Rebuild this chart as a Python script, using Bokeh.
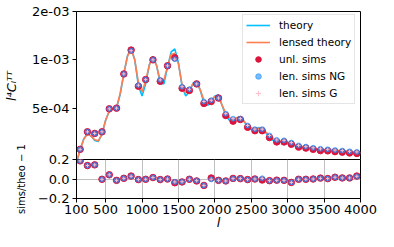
from bokeh.plotting import figure
from bokeh.models import Range1d, FixedTicker, Legend, LegendItem
from bokeh.layouts import column
from bokeh.embed import file_html
from bokeh.resources import INLINE

# ---------------- data ----------------
ell_theory = [100, 150, 200, 250, 300, 350, 400, 450, 500, 550, 600, 650, 700, 750,
              800, 850, 900, 950, 1000, 1050, 1100, 1150, 1200, 1250, 1300, 1350,
              1400, 1450, 1500, 1550, 1600, 1650, 1700, 1750, 1800, 1850, 1900,
              1950, 2000, 2050, 2100, 2150, 2200, 2250, 2300, 2350, 2400, 2450,
              2500, 2550, 2600, 2650, 2700, 2750, 2800, 2900, 3000, 3100, 3200,
              3300, 3400, 3500, 3600, 3700, 3800, 3900, 4000]

cl_theory = [2.30e-4, 2.75e-4, 3.22e-4, 3.48e-4, 3.35e-4, 3.15e-4, 3.10e-4, 3.45e-4,
             4.20e-4, 4.80e-4, 4.95e-4, 5.00e-4, 6.10e-4, 8.20e-4, 1.06e-3, 1.18e-3,
             1.00e-3, 6.90e-4, 5.95e-4, 7.10e-4, 9.30e-4, 1.05e-3, 9.20e-4, 7.10e-4,
             7.10e-4, 9.00e-4, 1.12e-3, 1.17e-3, 9.60e-4, 6.80e-4, 5.95e-4, 6.30e-4,
             7.15e-4, 7.35e-4, 6.45e-4, 5.40e-4, 5.20e-4, 5.50e-4, 5.95e-4, 6.05e-4,
             5.20e-4, 4.50e-4, 4.20e-4, 4.22e-4, 4.35e-4, 4.42e-4, 4.15e-4, 3.80e-4,
             3.68e-4, 3.70e-4, 3.78e-4, 3.75e-4, 3.50e-4, 3.30e-4, 3.15e-4, 3.08e-4,
             3.00e-4, 2.92e-4, 2.85e-4, 2.80e-4, 2.76e-4, 2.73e-4, 2.71e-4, 2.69e-4,
             2.67e-4, 2.64e-4, 2.62e-4]

cl_lensed = [2.30e-4, 2.75e-4, 3.20e-4, 3.45e-4, 3.35e-4, 3.18e-4, 3.13e-4, 3.45e-4,
             4.20e-4, 4.80e-4, 4.95e-4, 5.05e-4, 6.20e-4, 8.20e-4, 1.05e-3, 1.16e-3,
             1.00e-3, 7.20e-4, 6.30e-4, 7.40e-4, 9.30e-4, 1.03e-3, 9.20e-4, 7.40e-4,
             7.50e-4, 9.10e-4, 1.08e-3, 1.10e-3, 9.40e-4, 7.00e-4, 6.20e-4, 6.50e-4,
             7.10e-4, 7.25e-4, 6.50e-4, 5.60e-4, 5.40e-4, 5.60e-4, 5.90e-4, 5.85e-4,
             5.20e-4, 4.65e-4, 4.35e-4, 4.30e-4, 4.35e-4, 4.38e-4, 4.15e-4, 3.90e-4,
             3.75e-4, 3.70e-4, 3.75e-4, 3.73e-4, 3.55e-4, 3.38e-4, 3.22e-4, 3.12e-4,
             3.05e-4, 2.96e-4, 2.88e-4, 2.83e-4, 2.79e-4, 2.76e-4, 2.74e-4, 2.72e-4,
             2.70e-4, 2.67e-4, 2.65e-4]

ell_bins = [150, 250, 350, 450, 550, 650, 750, 850, 950, 1050, 1150, 1250, 1350,
            1450, 1550, 1650, 1750, 1850, 1950, 2050, 2150, 2250, 2350, 2450, 2550,
            2650, 2750, 2850, 2950, 3050, 3150, 3250, 3350, 3450, 3550, 3650, 3750,
            3850, 3950]

sims_unl = [2.77e-4, 3.56e-4, 3.48e-4, 3.56e-4, 4.95e-4, 5.00e-4, 8.17e-4, 1.15e-3,
            6.85e-4, 7.53e-4, 1.00e-3, 7.35e-4, 9.18e-4, 1.03e-3, 6.65e-4, 6.45e-4,
            7.08e-4, 5.35e-4, 5.50e-4, 5.78e-4, 4.50e-4, 4.15e-4, 4.25e-4, 3.80e-4,
            3.62e-4, 3.62e-4, 3.28e-4, 3.08e-4, 3.08e-4, 2.98e-4, 2.86e-4, 2.82e-4,
            2.77e-4, 2.72e-4, 2.71e-4, 2.68e-4, 2.66e-4, 2.63e-4, 2.61e-4]

sims_ng = [2.77e-4, 3.56e-4, 3.48e-4, 3.56e-4, 4.95e-4, 5.00e-4, 8.17e-4, 1.14e-3,
           6.95e-4, 7.53e-4, 1.00e-3, 7.50e-4, 9.18e-4, 1.01e-3, 6.80e-4, 6.55e-4,
           7.08e-4, 5.50e-4, 5.60e-4, 5.78e-4, 4.62e-4, 4.30e-4, 4.30e-4, 3.90e-4,
           3.70e-4, 3.70e-4, 3.38e-4, 3.17e-4, 3.15e-4, 3.05e-4, 2.93e-4, 2.88e-4,
           2.83e-4, 2.79e-4, 2.77e-4, 2.74e-4, 2.72e-4, 2.69e-4, 2.67e-4]

sims_g = [2.77e-4, 3.56e-4, 3.48e-4, 3.56e-4, 4.95e-4, 5.00e-4, 8.17e-4, 1.14e-3,
          6.95e-4, 7.53e-4, 1.00e-3, 7.50e-4, 9.18e-4, 1.01e-3, 6.80e-4, 6.55e-4,
          7.08e-4, 5.50e-4, 5.60e-4, 5.78e-4, 4.62e-4, 4.30e-4, 4.30e-4, 3.90e-4,
          3.70e-4, 3.70e-4, 3.38e-4, 3.17e-4, 3.15e-4, 3.05e-4, 2.93e-4, 2.88e-4,
          2.83e-4, 2.79e-4, 2.77e-4, 2.74e-4, 2.72e-4, 2.69e-4, 2.67e-4]

ratio_unl = [0.186, 0.138, 0.145, -0.003, 0.043, -0.014, 0.007, 0.030, -0.006,
             -0.003, 0.015, -0.006, 0.000, -0.038, -0.030, -0.003, -0.020, -0.066,
             0.010, -0.014, -0.020, 0.006, 0.004, -0.006, 0.000, -0.010, -0.017,
             -0.012, -0.014, -0.035, -0.003, -0.003, 0.000, 0.009, 0.004, 0.018,
             0.011, 0.011, 0.030]

ratio_ng = [0.186, 0.138, 0.145, -0.003, 0.043, -0.014, 0.007, 0.028, -0.006,
            -0.003, 0.015, -0.006, 0.000, -0.030, -0.028, -0.003, -0.017, -0.066,
            -0.003, -0.014, -0.020, 0.004, 0.004, -0.006, 0.000, 0.007, -0.017,
            -0.014, -0.014, -0.035, -0.003, -0.003, 0.000, 0.007, 0.004, 0.018,
            0.011, 0.011, 0.028]

x_ticks = [100, 500, 1000, 1500, 2000, 2500, 3000, 3500, 4000]
y_ticks_top = [5e-4, 1e-3, 2e-3]
y_labels_top = ["5e-04", "1e-03", "2e-03"]
y_ticks_bot = [-0.2, 0.0, 0.2]
y_labels_bot = ["\u22120.2", "0.0", "0.2"]
y_grid_bot = [0.0]

FONT = "DejaVu Sans"
C_THEORY = "deepskyblue"
C_LENSED = "coral"
C_UNL = "crimson"
C_NG = "dodgerblue"
C_G = "pink"

LEFT = 71      # frame left edge (px)
RIGHT = 18     # space right of the frame
OVER = 20      # overlap of the bottom panel's (transparent) canvas onto the top one


def style_axes(p):
    for ax in p.axis:
        ax.major_label_text_font = FONT
        ax.major_label_text_font_size = "13px"
        ax.major_label_text_color = "black"
        ax.axis_label_text_font = FONT
        ax.axis_label_text_font_size = "13px"
        ax.axis_label_text_color = "black"
        ax.axis_line_color = "black"
        ax.major_tick_line_color = "black"
        ax.major_tick_out = 4
        ax.major_tick_in = 0
        ax.minor_tick_out = 0
        ax.minor_tick_in = 0
        ax.major_label_standoff = 3
    p.outline_line_color = "black"
    p.outline_line_width = 1
    p.background_fill_color = "white"


x_range = Range1d(100, 4000)

# ---------------- top panel ----------------
p1 = figure(width=378, height=160, x_range=x_range, y_range=Range1d(2.36e-4, 2e-3),
            y_axis_type="log", x_axis_location=None, output_backend="svg",
            toolbar_location=None, min_border_left=LEFT, min_border_right=RIGHT,
            min_border_top=11, min_border_bottom=0)
p1.grid.visible = False
style_axes(p1)
p1.border_fill_color = "white"
p1.yaxis.ticker = FixedTicker(ticks=y_ticks_top)
p1.yaxis.major_label_overrides = dict(zip(y_ticks_top, y_labels_top))
p1.yaxis.axis_label = "l\u2074C\u2097\u1d40\u1d40"
p1.yaxis.axis_label_text_font_style = "italic"
p1.yaxis.axis_label_standoff = 10

r_th = p1.line(ell_theory, cl_theory, line_color=C_THEORY, line_width=1.6)
r_le = p1.line(ell_theory, cl_lensed, line_color=C_LENSED, line_width=1.6)
r_unl = p1.scatter(ell_bins, sims_unl, marker="circle", size=6.5,
                   fill_color=C_UNL, line_color=C_UNL)
r_ng = p1.scatter(ell_bins, sims_ng, marker="circle", size=5,
                  fill_color=C_NG, line_color=C_NG, fill_alpha=0.6, line_alpha=0.6)
r_g = p1.scatter(ell_bins, sims_g, marker="cross", size=3.5,
                 line_color=C_G, line_width=1)

legend = Legend(items=[
    LegendItem(label="theory", renderers=[r_th]),
    LegendItem(label="lensed theory", renderers=[r_le]),
    LegendItem(label="unl. sims", renderers=[r_unl]),
    LegendItem(label="len. sims NG", renderers=[r_ng]),
    LegendItem(label="len. sims G", renderers=[r_g]),
])
legend.location = (166, 56)
legend.label_text_font = FONT
legend.label_text_font_size = "10.5px"
legend.label_text_color = "black"
legend.glyph_width = 24
legend.glyph_height = 14
legend.label_height = 14
legend.spacing = 3
legend.padding = 3
legend.margin = 0
legend.label_standoff = 9
legend.border_line_color = "#cccccc"
legend.border_line_width = 1
legend.background_fill_color = "white"
legend.background_fill_alpha = 0.8
p1.add_layout(legend)

# ---------------- bottom panel ----------------
p2 = figure(width=378, height=OVER + 1 + 38 + 34, x_range=x_range,
            y_range=Range1d(-0.2, 0.2), output_backend="svg", toolbar_location=None,
            min_border_left=LEFT, min_border_right=RIGHT, min_border_top=OVER,
            min_border_bottom=34)
style_axes(p2)
p2.border_fill_alpha = 0
p2.margin = (-(OVER + 1), 0, 0, 0)
p2.xaxis.ticker = FixedTicker(ticks=x_ticks)
p2.yaxis.ticker = FixedTicker(ticks=y_ticks_bot)
p2.yaxis.major_label_overrides = dict(zip(y_ticks_bot, y_labels_bot))
p2.xaxis.major_label_standoff = 2
p2.xaxis.axis_label = "l"
p2.xaxis.axis_label_text_font_style = "italic"
p2.xaxis.axis_label_standoff = -2
p2.yaxis.axis_label = "sims/theo \u2212 1"
p2.yaxis.axis_label_text_font_style = "normal"
p2.yaxis.axis_label_text_font_size = "10px"
p2.yaxis.axis_label_standoff = 8
p2.xgrid.ticker = FixedTicker(ticks=x_ticks)
p2.ygrid.ticker = FixedTicker(ticks=y_grid_bot)
p2.grid.grid_line_color = "#b0b0b0"
p2.grid.grid_line_width = 0.8

p2.scatter(ell_bins, ratio_unl, marker="circle", size=6.5,
           fill_color=C_UNL, line_color=C_UNL)
p2.scatter(ell_bins, ratio_ng, marker="circle", size=5,
           fill_color=C_NG, line_color=C_NG, fill_alpha=0.6, line_alpha=0.6)
p2.scatter(ell_bins, ratio_ng, marker="cross", size=3.5, line_color=C_G, line_width=1)

layout = column(p1, p2, spacing=0)
open("out.html", "w").write(file_html(layout, INLINE))
